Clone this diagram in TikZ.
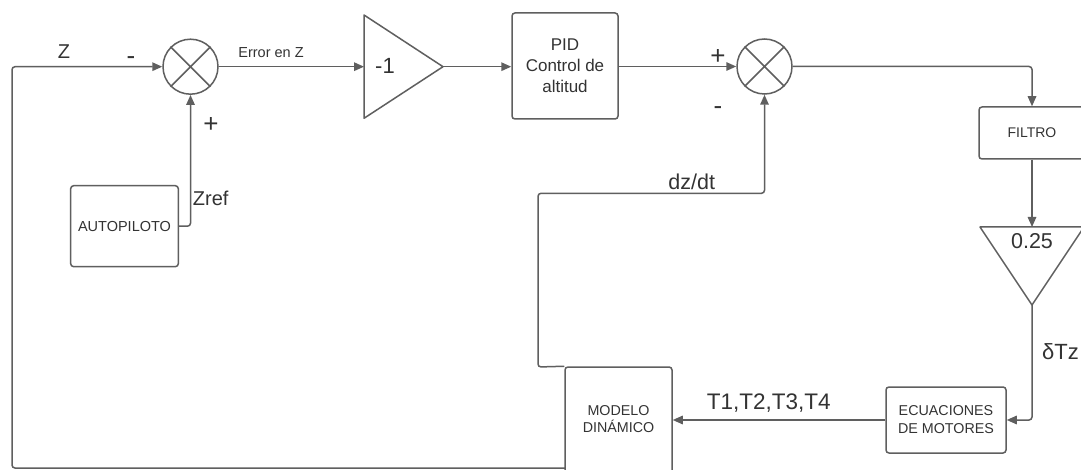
\documentclass[tikz,border=0pt]{standalone}
\usepackage{fontspec}
\setmainfont{Liberation Sans}
\usetikzlibrary{arrows.meta,calc}
\definecolor{lc}{HTML}{5F5F5F}
\definecolor{tc}{HTML}{333333}
\tikzset{
  ln/.style={draw=lc, line width=1.5pt, rounded corners=3pt},
  arr/.style={ln, -{Triangle[length=10pt,width=8.5pt]}},
  box/.style={draw=lc, line width=1.5pt, rounded corners=3pt, fill=white, inner sep=0pt, text=tc, align=center},
  sumnode/.style={circle, draw=lc, line width=1.5pt, minimum size=55pt, inner sep=0pt},
  lbl/.style={text=tc, inner sep=0pt, anchor=base},
  fs/.style={font=\fontsize{#1}{#1}\selectfont},
}
\begin{document}
\begin{tikzpicture}[x=1pt,y=-1pt]
\useasboundingbox (0,0) rectangle (1081,470);
\clip (0,0) rectangle (1081,470);
\fill[white] (0,0) rectangle (1081,470);

% summing junctions
\node[sumnode] (s1) at (190.5,66.7) {};
\draw[lc, line width=1.5pt] (s1.north west) -- (s1.south east) (s1.north east) -- (s1.south west);
\node[sumnode] (s2) at (764.5,66.5) {};
\draw[lc, line width=1.5pt] (s2.north west) -- (s2.south east) (s2.north east) -- (s2.south west);

% gain -1
\draw[lc, line width=1.5pt, line join=round] (364,15) -- (443,66.7) -- (364,118.3) -- cycle;
\coordinate (g1in) at (364,66.7);
\coordinate (g1out) at (443,66.7);
\node[lbl, fs=22] (g1t) at (385,73.5) {-1};

% gain 0.25
\draw[lc, line width=1.5pt, line join=round] (980,227) -- (1084,227) -- (1032,305) -- cycle;
\coordinate (g2in) at (1032,227);
\coordinate (g2out) at (1032,305);
\node[lbl, fs=21.5] (g2t) at (1032,249) {0.25};

% blocks
\node[box, minimum width=106pt, minimum height=106pt, font=\fontsize{17}{21.2}\selectfont] (pid) at (565,66) {PID\\Control de\\altitud};
\node[box, minimum width=107.6pt, minimum height=81pt, font=\fontsize{14.5}{17}\selectfont] (auto) at (124.5,226.2) {AUTOPILOTO};
\node[box, minimum width=106pt, minimum height=52pt, font=\fontsize{14}{17}\selectfont] (filtro) at (1032,133) {FILTRO};
\node[box, minimum width=120pt, minimum height=66pt, font=\fontsize{14.3}{18}\selectfont] (ecu) at (946,420) {ECUACIONES\\DE MOTORES};
\node[box, minimum width=107pt, minimum height=123pt] (modelo) at (618.5,428.5) {};
\node[text=tc, align=center, inner sep=0pt, font=\fontsize{14.3}{17.7}\selectfont] (modelotxt) at (618.5,419) {MODELO\\DINÁMICO};

\coordinate (fbstart) at (565,468);
\coordinate (fbcorner1) at (12,468);
\coordinate (fbcorner2) at (12,66.7);
\coordinate (dzc1) at (538,367);
\coordinate (dzc2) at (538,193.3);

% connectors
\draw[arr] (s1.east) -- (g1in);
\draw[arr] (g1out) -- (pid.west |- g1out);
\draw[arr] (pid.east |- s2.west) -- (s2.west);
\draw[arr] (s2.east) -| (filtro.north);
\draw[arr] (filtro.south) -- (g2in);
\draw[arr] (g2out) |- (ecu.east);
\draw[arr] (ecu.west) -- (modelo.east |- ecu.west);
\draw[arr] (modelo.north west) -- (dzc1) -- (dzc2) -| (s2.south);
\draw[arr] (fbstart) -- (fbcorner1) -- (fbcorner2) -- (s1.west);
\draw[arr] (auto.east) -| (s1.south);

% labels
\node[lbl, fs=20] (lz) at (64,59) {Z};
\node[lbl, fs=26] (lm1) at (131,64.7) {-};
\node[lbl, fs=14.5] (lerr) at (271,57.3) {Error en Z};
\node[lbl, fs=26] (lp1) at (211,132.5) {+};
\node[lbl, fs=20, anchor=base west] (lzref) at (192.7,206) {Zref};
\node[lbl, fs=26] (lp2) at (718,65) {+};
\node[lbl, fs=26] (lm2) at (718,114.3) {-};
\node[lbl, fs=21.5] (ldz) at (691.7,189.3) {dz/dt};
\node[lbl, fs=22.5, anchor=base west] (lt) at (706.7,409.3) {T1,T2,T3,T4};
\node[lbl, fs=22, anchor=base west] (ldt) at (1042,359.3) {δTz};
\end{tikzpicture}
\end{document}
